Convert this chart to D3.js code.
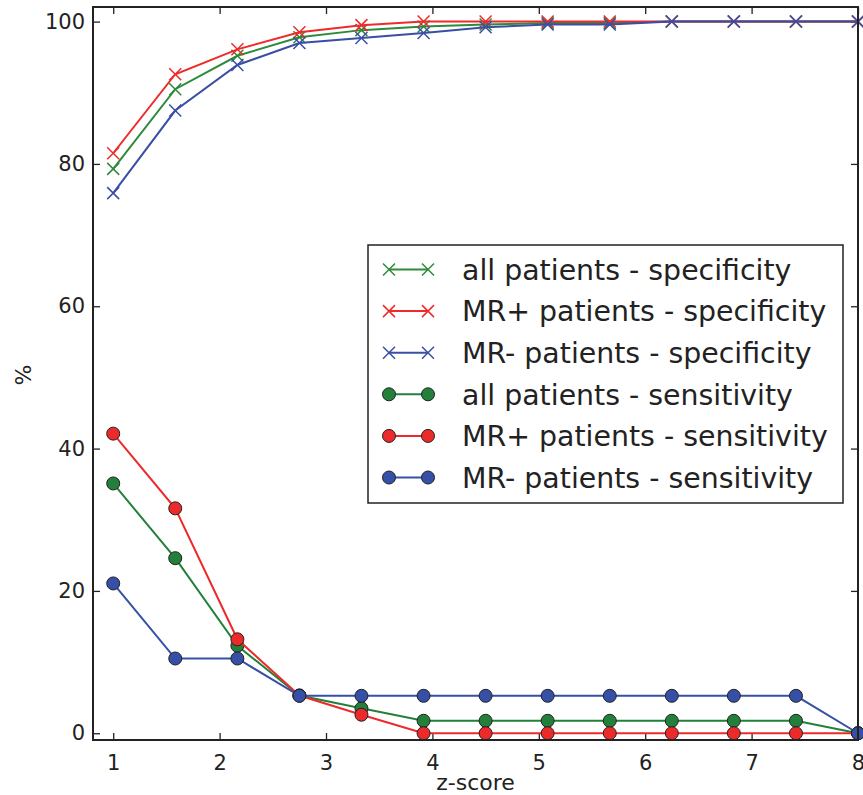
<!DOCTYPE html>
<html>
<head>
<meta charset="utf-8">
<script src="https://cdn.jsdelivr.net/npm/d3@7"></script>
<style>
  body { margin: 0; background: #fff; }
  svg { font-family: "DejaVu Sans", sans-serif; }
</style>
</head>
<body>
<div id="container"></div>
<script>
var zScores = [1, 1.583, 2.167, 2.75, 3.333, 3.917, 4.5, 5.083, 5.667, 6.25, 6.833, 7.417, 8]

var specAll = [79.3, 90.5, 95.2, 97.8, 98.8, 99.3, 99.6, 99.8, 99.8, 100, 100, 100, 100]
var specMRPlus = [81.5, 92.6, 96.1, 98.5, 99.5, 100, 100, 100, 100, 100, 100, 100, 100]
var specMRMinus = [75.9, 87.5, 93.9, 97.0, 97.7, 98.4, 99.2, 99.6, 99.6, 100, 100, 100, 100]

var sensAll = [35.1, 24.6, 12.3, 5.3, 3.5, 1.75, 1.75, 1.75, 1.75, 1.75, 1.75, 1.75, 0]
var sensMRPlus = [42.1, 31.6, 13.2, 5.3, 2.6, 0, 0, 0, 0, 0, 0, 0, 0]
var sensMRMinus = [21.05, 10.5, 10.5, 5.26, 5.26, 5.26, 5.26, 5.26, 5.26, 5.26, 5.26, 5.26, 0]

var xTicks = [1, 2, 3, 4, 5, 6, 7, 8]
var yTicks = [0, 20, 40, 60, 80, 100]

var green = '#2e8a3c'
var red = '#ee2b2b'
var blue = '#3a4ea6'

var series = [
    { label: 'all patients - specificity', values: specAll, color: green, marker: 'x' },
    { label: 'MR+ patients - specificity', values: specMRPlus, color: red, marker: 'x' },
    { label: 'MR- patients - specificity', values: specMRMinus, color: blue, marker: 'x' },
    { label: 'all patients - sensitivity', values: sensAll, color: '#23803a', marker: 'o' },
    { label: 'MR+ patients - sensitivity', values: sensMRPlus, color: '#ec2a2a', marker: 'o' },
    { label: 'MR- patients - sensitivity', values: sensMRMinus, color: '#3550a6', marker: 'o' }
]

var width = 863
var height = 795
var plotLeft = 93, plotRight = 858, plotTop = 7, plotBottom = 740

var svg = d3.select('#container').append('svg')
    .attr('width', width)
    .attr('height', height)

var x = d3.scaleLinear().domain([0.81, 8]).range([plotLeft, plotRight])
var y = d3.scaleLinear().domain([-0.95, 102.05]).range([plotBottom, plotTop])

// axes, ticks pointing inward on all four sides
function styleAxis(g){
    g.attr('font-size', 21).attr('font-family', null)
    g.select('.domain').remove()
    g.selectAll('line').attr('stroke', '#222').attr('stroke-width', 1.3)
    g.selectAll('text').attr('fill', '#222')
}

svg.append('g')
    .attr('transform', 'translate(0,' + plotBottom + ')')
    .call(d3.axisBottom(x).tickValues(xTicks).tickSizeInner(-7).tickSizeOuter(0).tickPadding(15).tickFormat(d3.format('d')))
    .call(styleAxis)

svg.append('g')
    .attr('transform', 'translate(0,' + plotTop + ')')
    .call(d3.axisTop(x).tickValues(xTicks).tickSizeInner(-7).tickSizeOuter(0).tickFormat(''))
    .call(styleAxis)

svg.append('g')
    .attr('transform', 'translate(' + plotLeft + ',0)')
    .call(d3.axisLeft(y).tickValues(yTicks).tickSizeInner(-7).tickSizeOuter(0).tickPadding(8).tickFormat(d3.format('d')))
    .call(styleAxis)

svg.append('g')
    .attr('transform', 'translate(' + plotRight + ',0)')
    .call(d3.axisRight(y).tickValues(yTicks).tickSizeInner(-7).tickSizeOuter(0).tickFormat(''))
    .call(styleAxis)

var line = d3.line()
    .x(function(d, i){ return x(zScores[i]) })
    .y(function(d){ return y(d) })

function drawX(g, cx, cy, color, s){
    g.append('path')
        .attr('d', 'M' + (cx - s) + ',' + (cy - s) + 'L' + (cx + s) + ',' + (cy + s) +
                   'M' + (cx - s) + ',' + (cy + s) + 'L' + (cx + s) + ',' + (cy - s))
        .attr('stroke', color)
        .attr('stroke-width', 1.5)
        .attr('fill', 'none')
}

function drawDot(g, cx, cy, color){
    g.append('circle')
        .attr('cx', cx)
        .attr('cy', cy)
        .attr('r', 6.5)
        .attr('fill', color)
        .attr('stroke', '#222')
        .attr('stroke-width', 1)
}

var plot = svg.append('g')

series.forEach(function(s){
    plot.append('path')
        .datum(s.values)
        .attr('d', line)
        .attr('fill', 'none')
        .attr('stroke', s.color)
        .attr('stroke-width', 2)
    s.values.forEach(function(v, i){
        if(s.marker === 'x') drawX(plot, x(zScores[i]), y(v), s.color, 6)
        else drawDot(plot, x(zScores[i]), y(v), s.color)
    })
})

// frame
svg.append('rect')
    .attr('x', plotLeft)
    .attr('y', plotTop)
    .attr('width', plotRight - plotLeft)
    .attr('height', plotBottom - plotTop)
    .attr('fill', 'none')
    .attr('stroke', '#222')
    .attr('stroke-width', 2)

// legend
var legend = svg.append('g')
legend.append('rect')
    .attr('x', 368)
    .attr('y', 245)
    .attr('width', 475)
    .attr('height', 258)
    .attr('fill', '#fff')
    .attr('stroke', '#222')
    .attr('stroke-width', 1.5)

series.forEach(function(s, i){
    var ly = 269.5 + i * 41.6
    legend.append('line')
        .attr('x1', 389).attr('x2', 428)
        .attr('y1', ly).attr('y2', ly)
        .attr('stroke', s.color)
        .attr('stroke-width', 2)
    if(s.marker === 'x'){
        drawX(legend, 389, ly, s.color, 6)
        drawX(legend, 428, ly, s.color, 6)
    } else {
        drawDot(legend, 389, ly, s.color)
        drawDot(legend, 428, ly, s.color)
    }
    legend.append('text')
        .attr('x', 462)
        .attr('y', ly)
        .attr('dy', '0.36em')
        .attr('font-size', 28.4)
        .attr('fill', '#222')
        .text(s.label)
})

svg.append('text')
    .attr('x', (plotLeft + plotRight) / 2)
    .attr('y', 790)
    .attr('text-anchor', 'middle')
    .attr('font-size', 22)
    .attr('fill', '#222')
    .text('z-score')

svg.append('text')
    .attr('transform', 'translate(31,375) rotate(-90)')
    .attr('text-anchor', 'middle')
    .attr('font-size', 22)
    .attr('fill', '#222')
    .text('%')
</script>
</body>
</html>
